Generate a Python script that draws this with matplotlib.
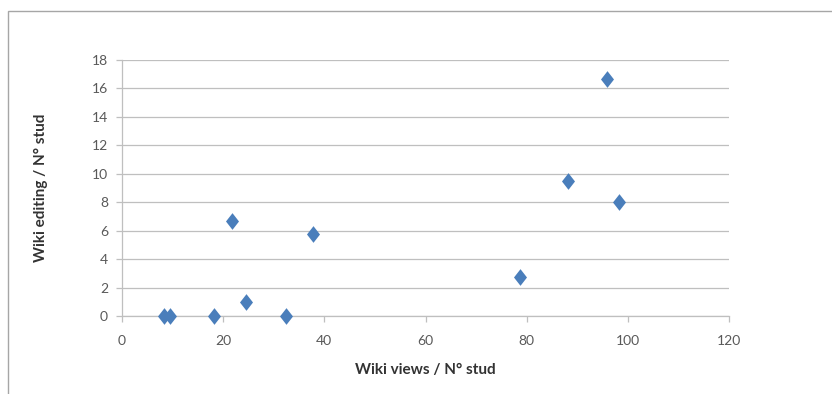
import matplotlib
matplotlib.use("Agg")
import matplotlib.pyplot as plt
from matplotlib.patches import Rectangle

views = [8.4, 9.5, 18.1, 21.8, 24.5, 32.4, 37.7, 78.7, 88.1, 95.9, 98.2]
editing = [0.0, 0.0, 0.0, 6.66, 0.98, 0.0, 5.78, 2.73, 9.5, 16.68, 8.0]
x_ticks = [0, 20, 40, 60, 80, 100, 120]
y_ticks = [0, 2, 4, 6, 8, 10, 12, 14, 16, 18]

plt.rcParams['font.family'] = ['Lato', 'DejaVu Sans']

fig = plt.figure(figsize=(8.32, 3.94), dpi=100)
fig.patches.append(Rectangle((8/832, -0.1), 1.0, 1 - 11/394 + 0.1, transform=fig.transFigure,
                             fill=False, edgecolor='#A6A6A6', linewidth=1.0))
ax = fig.add_axes([122/832, 1 - 316/394, (729 - 122)/832, (316 - 60)/394])

diamond = [(0, 1), (0.78, 0), (0, -1), (-0.78, 0), (0, 1)]
ax.plot(views, editing, linestyle='none', marker=diamond, markersize=12,
        color='#4A7EBB', markeredgewidth=0, zorder=3, clip_on=False)

ax.set_xlim(0, 120)
ax.set_ylim(0, 18)
ax.set_xticks(x_ticks)
ax.set_yticks(y_ticks)
ax.grid(axis='y', color='#BFBFBF', linewidth=0.9)
ax.set_axisbelow(True)
for s in ['top', 'right']:
    ax.spines[s].set_visible(False)
for s in ['left', 'bottom']:
    ax.spines[s].set_color('#BFBFBF')
    ax.spines[s].set_linewidth(0.9)
ax.tick_params(axis='both', colors='#BFBFBF', labelcolor='#595959', labelsize=10, length=4, width=0.9)
ax.tick_params(axis='x', pad=10)
ax.tick_params(axis='y', pad=6)

ax.set_xlabel('Wiki views / N° stud', fontsize=11, fontweight='bold', color='#333333')
ax.set_ylabel('Wiki editing / N° stud', fontsize=11, fontweight='bold', color='#333333')
ax.xaxis.set_label_coords(0.5, -(370 - 316) / 256, transform=ax.transAxes)
ax.yaxis.set_label_coords(-(122 - 41) / 607, 0.5, transform=ax.transAxes)
ax.xaxis.label.set_va('center')
ax.yaxis.label.set_va('center')

fig.savefig('out.png', dpi=100, facecolor='white')
